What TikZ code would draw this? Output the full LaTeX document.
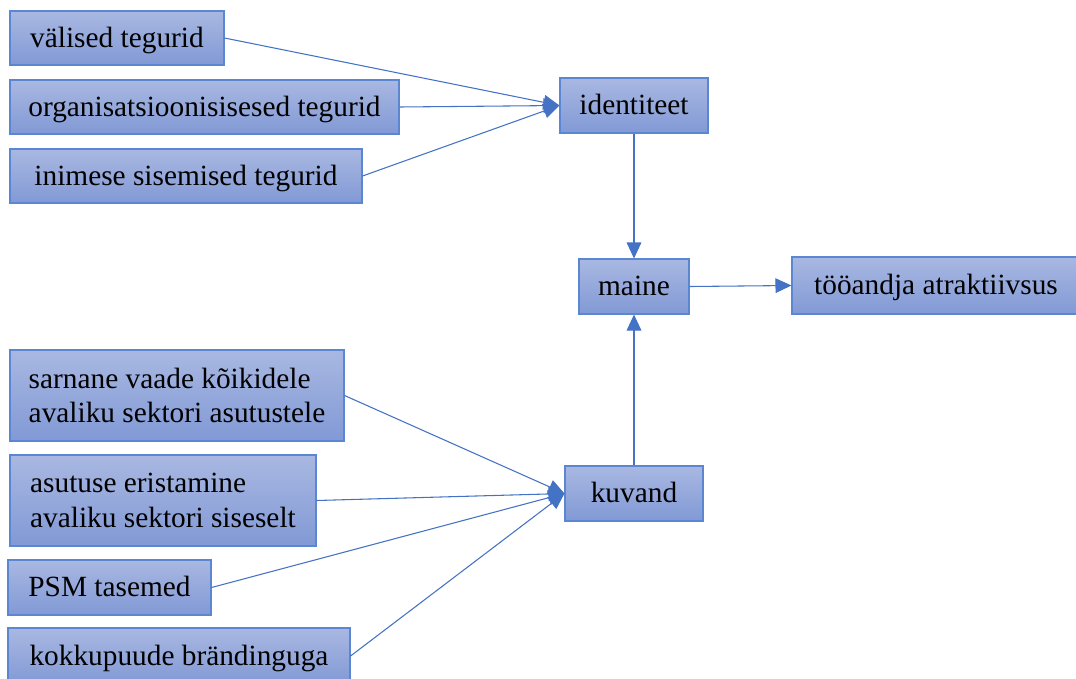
\documentclass[tikz,border=0pt]{standalone}
\usepackage{fontspec}
\setmainfont{Liberation Serif}
\usetikzlibrary{arrows.meta}
\definecolor{edgeblue}{HTML}{4472C4}
\definecolor{boxborder}{HTML}{5B86D2}
\definecolor{boxtop}{HTML}{A9B8E2}
\definecolor{boxbot}{HTML}{8199D5}
\tikzset{
  box/.style={draw=boxborder, line width=0.8pt, top color=boxtop, bottom color=boxbot,
    inner sep=0pt, align=left, font=\fontsize{22}{26}\selectfont, text=black},
  one/.style={box, text height=15.5pt, text depth=1.5pt},
  conn/.style={draw=edgeblue, line width=0.8pt, -{Triangle[length=12pt,width=11pt]}},
}
\begin{document}
\begin{tikzpicture}[x=0.75pt,y=-0.75pt]
\useasboundingbox (0,0) rectangle (1076,679);
\node[one, minimum width=160.5pt, minimum height=40.5pt] (val) at (117,38) {välised tegurid};
\node[one, minimum width=291.75pt, minimum height=40.5pt] (org) at (204.5,107) {organisatsioonisisesed tegurid};
\node[one, minimum width=264pt, minimum height=40.5pt] (ini) at (186,176) {inimese sisemised tegurid};
\node[one, minimum width=111pt, minimum height=41.25pt] (id) at (634,105.5) {identiteet};
\node[one, minimum width=82.5pt, minimum height=41.25pt] (mai) at (634,286.5) {maine};
\node[one, minimum width=216pt, minimum height=42.75pt] (too) at (936,285.5) {tööandja atraktiivsus};
\node[box, minimum width=250.5pt, minimum height=68.25pt] (sar) at (177,395.5) {sarnane vaade kõikidele\\avaliku sektori asutustele};
\node[box, minimum width=229.5pt, minimum height=68.25pt] (asu) at (163,500.5) {asutuse eristamine\\avaliku sektori siseselt};
\node[one, minimum width=152.25pt, minimum height=41.25pt] (psm) at (109.5,587.5) {PSM tasemed};
\node[one, minimum width=256.5pt, minimum height=42pt] (kok) at (179,656) {kokkupuude brändinguga};
\node[one, minimum width=103.5pt, minimum height=41.25pt] (kuv) at (634,493.5) {kuvand};
\draw[conn] (val.east) -- (id.west);
\draw[conn] (org.east) -- (id.west);
\draw[conn] (ini.east) -- (id.west);
\draw[conn] (id.south) -- (mai.north);
\draw[conn] (mai.east) -- (too.west);
\draw[conn] (kuv.north) -- (mai.south);
\draw[conn] (sar.east) -- (kuv.west);
\draw[conn] (asu.east) -- (kuv.west);
\draw[conn] (psm.east) -- (kuv.west);
\draw[conn] (kok.east) -- (kuv.west);
\end{tikzpicture}
\end{document}
